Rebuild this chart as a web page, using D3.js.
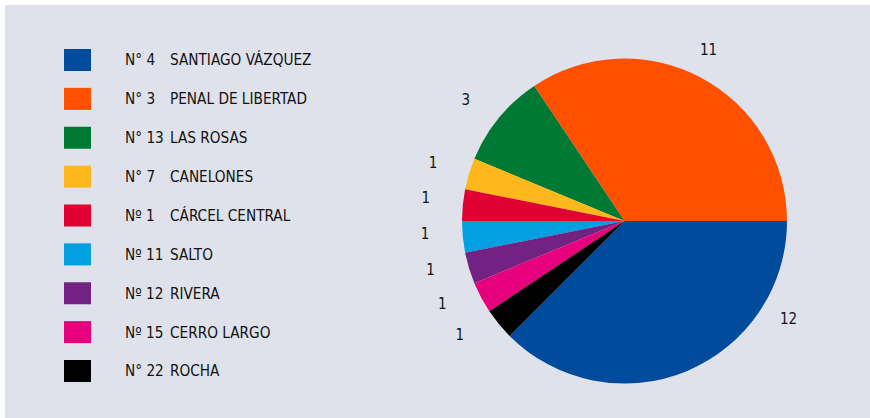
<!DOCTYPE html>
<html>
<head>
<meta charset="utf-8">
<script src="https://cdn.jsdelivr.net/npm/d3@7/dist/d3.min.js"></script>
<style>
  html, body { margin: 0; padding: 0; background: #ffffff; }
  svg { display: block; }
  text { font-family: "DejaVu Sans Condensed", "DejaVu Sans", sans-serif; fill: #111111; font-stretch: condensed; }
</style>
</head>
<body>
<svg id="chart" width="870" height="418"></svg>
<script>
const numbers = ["N° 4", "N° 3", "N° 13", "N° 7", "Nº 1", "Nº 11", "Nº 12", "Nº 15", "N° 22"];
const names = ["SANTIAGO VÁZQUEZ", "PENAL DE LIBERTAD", "LAS ROSAS", "CANELONES", "CÁRCEL CENTRAL", "SALTO", "RIVERA", "CERRO LARGO", "ROCHA"];
const values = [12, 11, 3, 1, 1, 1, 1, 1, 1];
const colors = ["#004b9b", "#ff5000", "#007934", "#ffb81c", "#e10032", "#00a0e1", "#722282", "#e6007e", "#000000"];

const W = 870, H = 418;
const svg = d3.select("#chart");

svg.append("rect").attr("x", 5).attr("y", 5).attr("width", W - 5).attr("height", H - 5).attr("fill", "#dfe2eb");

// Legend
const legendY = d3.scalePoint().domain(d3.range(values.length)).range([60, 371]);
const lg = svg.append("g");
const rows = lg.selectAll("g").data(names).join("g")
  .attr("transform", (d, i) => `translate(0,${legendY(i)})`);
rows.append("rect").attr("x", 64).attr("y", -11).attr("width", 27).attr("height", 22)
  .attr("fill", (d, i) => colors[i]);
rows.append("text").attr("x", 125).attr("y", 0).attr("dy", "0.36em")
  .style("font-size", "15.2px").text((d, i) => numbers[i]);
rows.append("text").attr("x", 170).attr("y", 0).attr("dy", "0.36em")
  .style("font-size", "15.2px").text(d => d);

// Pie
const cx = 624.5, cy = 221, r = 162.5;
const total = d3.sum(values);
const start = Math.PI / 2 + 2 * Math.PI * values[0] / total;
const pie = d3.pie().sort(null).value(d => d).startAngle(start).endAngle(start - 2 * Math.PI);
const arcs = pie(values);
const arc = d3.arc().innerRadius(0).outerRadius(r);
const g = svg.append("g").attr("transform", `translate(${cx},${cy})`);
g.selectAll("path").data(arcs).join("path")
  .attr("d", arc).attr("fill", (d, i) => colors[i]);

// Labels: small slices are spread slightly toward the left-side anchor to avoid crowding
const anchor = -73 * Math.PI / 180;
function labelAngle(d, i) {
  const mid = (d.startAngle + d.endAngle) / 2;
  if (i === 0) return mid - 0.64; // largest slice label nudged toward 3 o'clock
  if (i === 1) return mid - 0.035;
  return mid - 0.085 * (mid - anchor);
}
function labelRadius(d, i) { return i < 2 ? 191 : 200; }
g.selectAll("text.lbl").data(arcs).join("text").attr("class", "lbl")
  .attr("x", (d, i) => Math.sin(labelAngle(d, i)) * labelRadius(d, i))
  .attr("y", (d, i) => -Math.cos(labelAngle(d, i)) * labelRadius(d, i))
  .attr("text-anchor", "middle").attr("dy", "0.36em")
  .style("font-size", "15px")
  .text(d => d.data);
</script>
</body>
</html>
